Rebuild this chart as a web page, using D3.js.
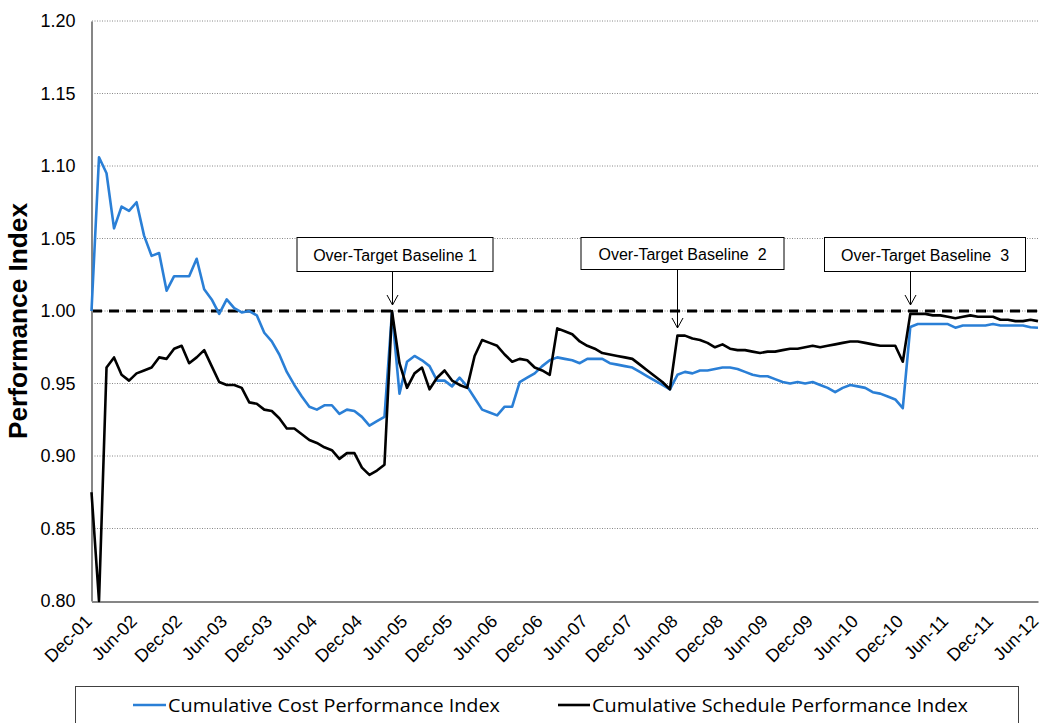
<!DOCTYPE html>
<html><head><meta charset="utf-8">
<script src="https://cdn.jsdelivr.net/npm/d3@7"></script>
<style>body{margin:0;background:#fff}</style>
</head><body>
<script>
// ---- data ----
const tickLabels = ["Dec-01","Jun-02","Dec-02","Jun-03","Dec-03","Jun-04","Dec-04","Jun-05","Dec-05","Jun-06","Dec-06","Jun-07","Dec-07","Jun-08","Dec-08","Jun-09","Dec-09","Jun-10","Dec-10","Jun-11","Dec-11","Jun-12"];
const yTicks = [0.80,0.85,0.90,0.95,1.00,1.05,1.10,1.15,1.20];
const seriesNames = ["Cumulative Cost Performance Index","Cumulative Schedule Performance Index"];
const cpi = [1.000,1.106,1.095,1.057,1.072,1.069,1.075,1.052,1.038,1.040,1.014,1.024,1.024,1.024,1.036,1.015,1.008,0.998,1.008,1.002,
0.999,1.000,0.997,0.985,0.979,0.970,0.958,0.949,0.941,0.934,0.932,0.935,0.935,0.929,0.932,0.931,0.927,0.921,0.924,0.927,
0.999,0.943,0.965,0.969,0.966,0.962,0.952,0.952,0.948,0.954,0.948,0.940,0.932,0.930,0.928,0.934,0.934,0.951,0.954,0.957,
0.962,0.966,0.968,0.967,0.966,0.964,0.967,0.967,0.967,0.964,0.963,0.962,0.961,0.958,0.955,0.952,0.949,0.946,0.956,0.958,
0.957,0.959,0.959,0.960,0.961,0.961,0.960,0.958,0.956,0.955,0.955,0.953,0.951,0.950,0.951,0.950,0.951,0.949,0.947,0.944,
0.947,0.949,0.948,0.947,0.944,0.943,0.941,0.939,0.933,0.989,0.991,0.991,0.991,0.991,0.991,0.9885,0.990,0.990,0.990,0.990,
0.991,0.990,0.990,0.990,0.990,0.9888,0.9885];
const spi = [0.875,0.800,0.961,0.968,0.956,0.952,0.957,0.959,0.961,0.968,0.967,0.974,0.976,0.964,0.968,0.973,0.962,0.951,0.949,0.949,
0.947,0.937,0.936,0.932,0.931,0.926,0.919,0.919,0.915,0.911,0.909,0.906,0.904,0.898,0.902,0.902,0.892,0.887,0.890,0.894,
1.000,0.964,0.947,0.957,0.961,0.946,0.954,0.959,0.952,0.949,0.947,0.969,0.980,0.978,0.976,0.970,0.965,0.967,0.966,0.961,
0.959,0.956,0.988,0.986,0.984,0.979,0.976,0.974,0.971,0.970,0.969,0.968,0.967,0.963,0.959,0.955,0.951,0.946,0.983,0.983,
0.981,0.980,0.978,0.975,0.977,0.974,0.973,0.973,0.972,0.971,0.972,0.972,0.973,0.974,0.974,0.975,0.976,0.975,0.976,0.977,
0.978,0.979,0.979,0.978,0.977,0.976,0.976,0.976,0.965,0.998,0.998,0.998,0.997,0.997,0.996,0.995,0.996,0.997,0.996,0.996,
0.996,0.994,0.994,0.993,0.993,0.994,0.993];
const annotationLabels = ["Over-Target Baseline 1","Over-Target Baseline  2","Over-Target Baseline  3"];
const annotationMonths = [40,78,109];
const target = 1.00;

// ---- layout ----
const W = 1041, H = 723;
const svg = d3.select("body").append("svg").attr("width",W).attr("height",H)
  .style("font-family","Arial, 'Liberation Sans', sans-serif");
const x = d3.scaleLinear().domain([0, cpi.length-1]).range([91.5, 1038]);
const y = d3.scaleLinear().domain([0.80, 1.20]).range([601, 21]);

// gridlines
svg.append("g").selectAll("line").data(yTicks.filter(d=>d>0.8)).join("line")
  .attr("x1",92).attr("x2",1038).attr("y1",d=>y(d)).attr("y2",d=>y(d))
  .attr("stroke","#888").attr("stroke-width",1).attr("stroke-dasharray","1,1.5");

// target dashed line
svg.append("line").attr("x1",92).attr("x2",1038).attr("y1",y(target)).attr("y2",y(target))
  .attr("stroke","#000").attr("stroke-width",3).attr("stroke-dasharray","10,7");

// y axis
const yAxis = d3.axisLeft(y).tickValues(yTicks).tickFormat(d3.format(".2f")).tickSize(0).tickPadding(16);
const gy = svg.append("g").attr("transform","translate(91.5,0)").call(yAxis);
gy.select(".domain").attr("stroke","#868686").attr("stroke-width",2);
gy.selectAll("text").attr("font-size",18).attr("fill","#000").attr("font-family","Arial, 'Liberation Sans', sans-serif");

// x axis
const xAxis = d3.axisBottom(x).tickValues(d3.range(0, cpi.length, 6)).tickFormat((d,i)=>tickLabels[i]).tickSize(0);
const gx = svg.append("g").attr("transform","translate(0,601.5)").call(xAxis);
gx.select(".domain").attr("stroke","#868686").attr("stroke-width",2);
gx.selectAll("text").attr("font-size",18).attr("fill","#000").attr("font-family","Arial, 'Liberation Sans', sans-serif")
  .attr("text-anchor","end").attr("dy",null).attr("y",null)
  .attr("transform","translate(1,21) rotate(-45)");

// y title
svg.append("text").attr("transform","translate(27,321) rotate(-90)").attr("text-anchor","middle")
  .attr("font-size",25).attr("font-weight","bold").attr("textLength",236).attr("lengthAdjust","spacingAndGlyphs")
  .text("Performance Index");

// lines
const line = d3.line().x((d,i)=>x(i)).y(d=>y(d));
svg.append("path").datum(cpi).attr("d",line).attr("fill","none").attr("stroke","#2a7fd6").attr("stroke-width",2.6).attr("stroke-linejoin","round");
svg.append("path").datum(spi).attr("d",line).attr("fill","none").attr("stroke","#000").attr("stroke-width",2.6).attr("stroke-linejoin","round");

// annotations
const boxes = [{l:297,r:493,t:237.5,b:271.5,tip:305},{l:581,r:784,t:237.5,b:269.5,tip:328},{l:824.5,r:1025.5,t:237.5,b:271.5,tip:305}];
annotationLabels.forEach((lab,i)=>{
  const b = boxes[i];
  svg.append("rect").attr("x",b.l).attr("y",b.t).attr("width",b.r-b.l).attr("height",b.b-b.t)
    .attr("fill","#fff").attr("stroke","#000").attr("stroke-width",1);
  svg.append("text").attr("x",(b.l+b.r)/2).attr("y",(b.t+b.b)/2+6).attr("text-anchor","middle")
    .attr("font-size",16).style("white-space","pre").attr("xml:space","preserve").text(lab);
  const ax = Math.round(x(annotationMonths[i]))+0.5;
  svg.append("line").attr("x1",ax).attr("x2",ax).attr("y1",b.b).attr("y2",b.tip).attr("stroke","#000").attr("stroke-width",1);
  svg.append("path").attr("d",`M${ax-5.5},${b.tip-10}L${ax},${b.tip}L${ax+5.5},${b.tip-10}`)
    .attr("fill","none").attr("stroke","#000").attr("stroke-width",1);
});

// legend
svg.append("rect").attr("x",75.5).attr("y",686.5).attr("width",943).attr("height",50)
  .attr("fill","#fff").attr("stroke","#404040").attr("stroke-width",1);
const legItems = [{c:"#2a7fd6",x1:133,x2:166,tx:168,tl:332},{c:"#000",x1:558,x2:590,tx:592,tl:376}];
legItems.forEach((it,i)=>{
  svg.append("line").attr("x1",it.x1).attr("x2",it.x2).attr("y1",705).attr("y2",705).attr("stroke",it.c).attr("stroke-width",2.6);
  svg.append("text").attr("x",it.tx).attr("y",712).attr("font-family","'Open Sans', sans-serif").attr("font-size",19)
    .attr("textLength",it.tl).attr("lengthAdjust","spacingAndGlyphs").text(seriesNames[i]);
});
</script>
</body></html>
